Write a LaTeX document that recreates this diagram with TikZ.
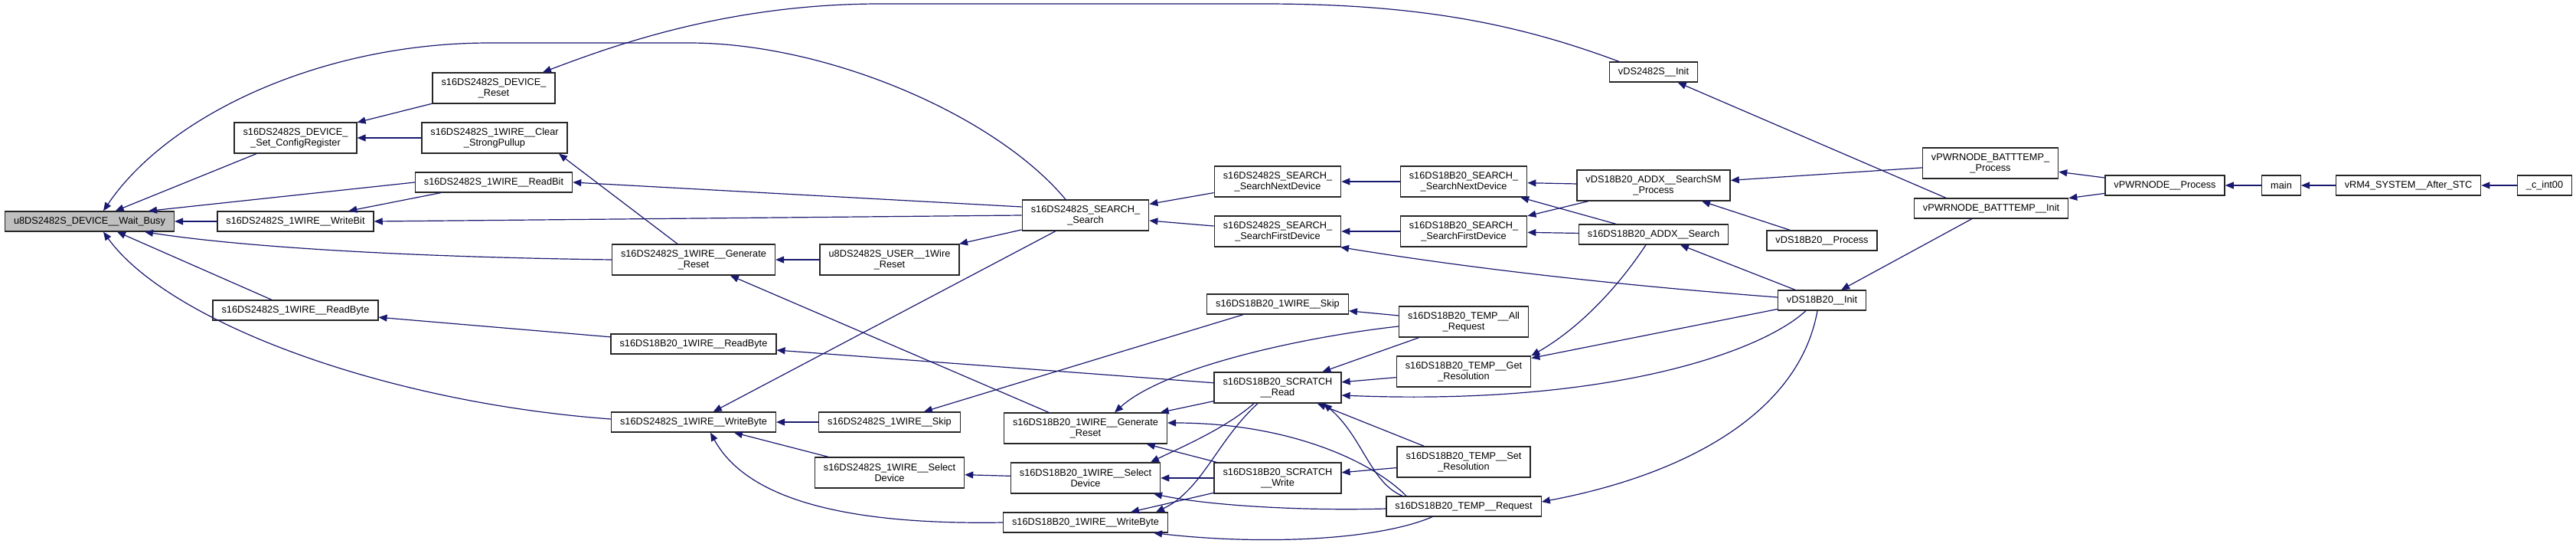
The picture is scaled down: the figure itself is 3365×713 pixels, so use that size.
\documentclass[tikz,border=0pt]{standalone}
\usepackage{fontspec}
\setmainfont{Liberation Sans}
\usetikzlibrary{arrows.meta}
\definecolor{edgeblue}{HTML}{191970}
\definecolor{rootgray}{HTML}{BFBFBF}

\begin{document}
\begin{tikzpicture}[x=1pt,y=-1pt,
  fn/.style={draw=black!85,line width=1.3pt,fill=white,align=center,inner xsep=11.5pt,inner ysep=1pt,minimum height=26pt,font=\fontsize{12.75pt}{14pt}\selectfont},
  two/.style={minimum height=40pt},
  rootfn/.style={fn,fill=rootgray},
  call/.style={draw=edgeblue,line width=1.2pt,-{Triangle[length=11pt,width=9pt]}}]
  \useasboundingbox (0,0) rectangle (3365,713);
  \node[rootfn] (waitbusy) at (117,289) {u8DS2482S\_DEVICE\_\_Wait\_Busy};
  \node[fn,two] (setconfig) at (386,180) {s16DS2482S\_DEVICE\_\\\_Set\_ConfigRegister};
  \node[fn,two] (devreset) at (645,115) {s16DS2482S\_DEVICE\_\\\_Reset};
  \node[fn,two] (clearpull) at (646,180) {s16DS2482S\_1WIRE\_\_Clear\\\_StrongPullup};
  \node[fn] (readbit) at (645,238) {s16DS2482S\_1WIRE\_\_ReadBit};
  \node[fn] (writebit) at (386,289) {s16DS2482S\_1WIRE\_\_WriteBit};
  \node[fn] (readbyteds) at (386,405) {s16DS2482S\_1WIRE\_\_ReadByte};
  \node[fn,two] (search) at (1418,281) {s16DS2482S\_SEARCH\_\\\_Search};
  \node[fn,two] (genresetds) at (906,339) {s16DS2482S\_1WIRE\_\_Generate\\\_Reset};
  \node[fn,two] (userreset) at (1162,339) {u8DS2482S\_USER\_\_1Wire\\\_Reset};
  \node[fn] (readbytedt) at (906,449) {s16DS18B20\_1WIRE\_\_ReadByte};
  \node[fn] (writebyteds) at (906,551) {s16DS2482S\_1WIRE\_\_WriteByte};
  \node[fn] (skipds) at (1162,551) {s16DS2482S\_1WIRE\_\_Skip};
  \node[fn,two] (selectds) at (1162,617) {s16DS2482S\_1WIRE\_\_Select\\Device};
  \node[fn,two] (genresetdt) at (1418,559) {s16DS18B20\_1WIRE\_\_Generate\\\_Reset};
  \node[fn,two] (selectdt) at (1418,624) {s16DS18B20\_1WIRE\_\_Select\\Device};
  \node[fn] (writebytedt) at (1418,682) {s16DS18B20\_1WIRE\_\_WriteByte};
  \node[fn,two] (nextds) at (1669,237) {s16DS2482S\_SEARCH\_\\\_SearchNextDevice};
  \node[fn,two] (firstds) at (1669,302) {s16DS2482S\_SEARCH\_\\\_SearchFirstDevice};
  \node[fn,two] (nextdt) at (1912,237) {s16DS18B20\_SEARCH\_\\\_SearchNextDevice};
  \node[fn,two] (firstdt) at (1912,302) {s16DS18B20\_SEARCH\_\\\_SearchFirstDevice};
  \node[fn,two] (searchsm) at (2160,242) {vDS18B20\_ADDX\_\_SearchSM\\\_Process};
  \node[fn] (addxsearch) at (2160,306) {s16DS18B20\_ADDX\_\_Search};
  \node[fn] (dtprocess) at (2380,314) {vDS18B20\_\_Process};
  \node[fn] (dsinit) at (2160,94) {vDS2482S\_\_Init};
  \node[fn] (skipdt) at (1669,397) {s16DS18B20\_1WIRE\_\_Skip};
  \node[fn,two] (allreq) at (1912,420) {s16DS18B20\_TEMP\_\_All\\\_Request};
  \node[fn,two] (scrread) at (1669,506) {s16DS18B20\_SCRATCH\\\_\_Read};
  \node[fn,two] (getres) at (1912,485) {s16DS18B20\_TEMP\_\_Get\\\_Resolution};
  \node[fn,two] (setres) at (1912,603) {s16DS18B20\_TEMP\_\_Set\\\_Resolution};
  \node[fn,two] (scrwrite) at (1669,624) {s16DS18B20\_SCRATCH\\\_\_Write};
  \node[fn] (tempreq) at (1912,661) {s16DS18B20\_TEMP\_\_Request};
  \node[fn] (dtinit) at (2380,392) {vDS18B20\_\_Init};
  \node[fn,two] (battproc) at (2600,213) {vPWRNODE\_BATTTEMP\_\\\_Process};
  \node[fn] (battinit) at (2601,272) {vPWRNODE\_BATTTEMP\_\_Init};
  \node[fn] (pwrproc) at (2828,242) {vPWRNODE\_\_Process};
  \node[fn] (main) at (2980,242) {main};
  \node[fn] (rm4) at (3146,242) {vRM4\_SYSTEM\_\_After\_STC};
  \node[fn] (cint) at (3324,242) {\_c\_int00};
  \draw[call] ([xshift=-26]search.north) .. controls (1300,150) and (1080,56) .. (900,56) -- (640,56) .. controls (420,56) and (220,150) .. ([xshift=18]waitbusy.north);
  \draw[call] (setconfig) -- (waitbusy);
  \draw[call] (readbit.west) -- ([xshift=77]waitbusy.north);
  \draw[call] (writebit) -- (waitbusy);
  \draw[call] (genresetds.west) .. controls (500,335) and (300,320) .. ([xshift=72]waitbusy.south);
  \draw[call] ([xshift=-31]readbyteds.north) -- ([xshift=36]waitbusy.south);
  \draw[call] ([yshift=4]writebyteds.west) .. controls (500,525) and (220,420) .. ([xshift=18]waitbusy.south);
  \draw[call] (devreset) -- (setconfig);
  \draw[call] (clearpull) -- (setconfig);
  \draw[call] ([xshift=-45]dsinit.north) .. controls (1980,30) and (1850,5) .. (1650,5) -- (1150,5) .. controls (950,5) and (800,60) .. ([xshift=64]devreset.north);
  \draw[call] ([xshift=-21]genresetds.north) -- ([xshift=84]clearpull.south);
  \draw[call] ([yshift=11]search.west) -- (readbit.east);
  \draw[call] (search.west) -- (writebit.east);
  \draw[call] (readbit) -- (writebit);
  \draw[call] (readbytedt) -- (readbyteds);
  \draw[call] (nextds) -- (search);
  \draw[call] (firstds) -- (search);
  \draw[call] (search) -- (userreset);
  \draw[call] (search) -- (writebyteds);
  \draw[call] (userreset) -- (genresetds);
  \draw[call] (genresetdt) -- (genresetds);
  \draw[call] (scrread) -- (readbytedt);
  \draw[call] (skipds) -- (writebyteds);
  \draw[call] (selectds) -- (writebyteds);
  \draw[call] (writebytedt.west) .. controls (1130,685) and (980,660) .. ([xshift=22]writebyteds.south);
  \draw[call] (skipdt) -- (skipds);
  \draw[call] (selectdt) -- (selectds);
  \draw[call] ([yshift=-6]allreq.west) .. controls (1700,440) and (1520,480) .. ([xshift=38]genresetdt.north);
  \draw[call] (scrread) -- (genresetdt);
  \draw[call] ([xshift=-75]tempreq.north) .. controls (1790,600) and (1680,552) .. ([yshift=7]genresetdt.east);
  \draw[call] (scrwrite) -- (genresetdt);
  \draw[call] ([xshift=-31]scrread.south) .. controls (1600,560) and (1540,585) .. ([xshift=85]selectdt.north);
  \draw[call] (scrwrite) -- (selectdt);
  \draw[call] ([yshift=-3]tempreq.west) .. controls (1700,667) and (1580,660) .. ([xshift=89]selectdt.south);
  \draw[call] (scrwrite) -- (writebytedt);
  \draw[call] ([xshift=-26]scrread.south) .. controls (1590,575) and (1570,640) .. ([xshift=92]writebytedt.north);
  \draw[call] ([xshift=-41]tempreq.south) .. controls (1800,705) and (1650,712) .. ([xshift=89]writebytedt.south);
  \draw[call] (nextdt) -- (nextds);
  \draw[call] (firstdt) -- (firstds);
  \draw[call] ([yshift=4]dtinit.west) .. controls (2150,375) and (1950,355) .. ([xshift=82]firstds.south);
  \draw[call] (searchsm) -- (nextdt);
  \draw[call] (searchsm) -- (firstdt);
  \draw[call] (addxsearch) -- (nextdt);
  \draw[call] (addxsearch) -- (firstdt);
  \draw[call] (battproc) -- (searchsm);
  \draw[call] (dtprocess) -- (searchsm);
  \draw[call] (dtinit) -- (addxsearch);
  \draw[call] ([xshift=-10]addxsearch.south) .. controls (2110,380) and (2060,430) .. (getres.north east);
  \draw[call] (dtinit) -- (getres);
  \draw[call] ([xshift=-21]dtinit.south) .. controls (2300,460) and (2100,530) .. ([yshift=-10]scrread.east);
  \draw[call] ([xshift=-6]dtinit.south) .. controls (2350,540) and (2200,620) .. ([yshift=6]tempreq.east);
  \draw[call] (allreq) -- (skipdt);
  \draw[call] (allreq) -- (scrread);
  \draw[call] (getres) -- (scrread);
  \draw[call] (setres) -- (scrread);
  \draw[call] ([xshift=-80]tempreq.north) .. controls (1790,630) and (1780,570) .. ([xshift=60]scrread.south);
  \draw[call] (setres) -- (scrwrite);
  \draw[call] ([xshift=-59]battinit.north) -- (dsinit);
  \draw[call] (battinit) -- (dtinit);
  \draw[call] (pwrproc) -- (battproc);
  \draw[call] (pwrproc) -- (battinit);
  \draw[call] (main) -- (pwrproc);
  \draw[call] (rm4) -- (main);
  \draw[call] (cint) -- (rm4);
\end{tikzpicture}
\end{document}
